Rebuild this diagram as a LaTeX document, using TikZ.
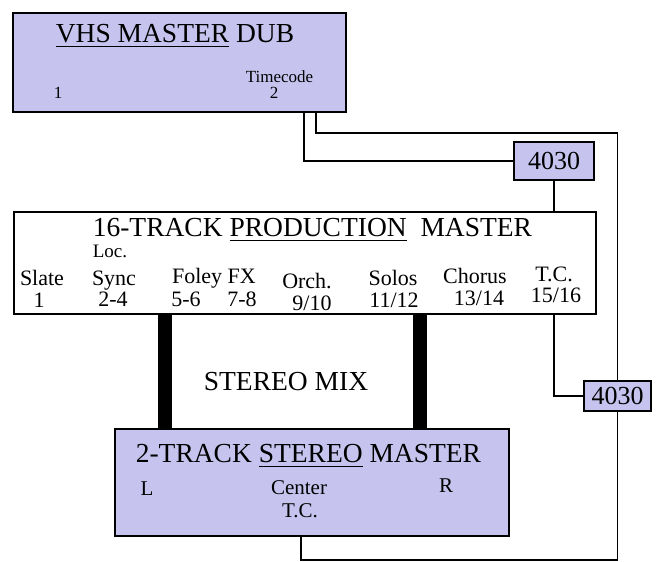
\documentclass[tikz,border=0pt]{standalone}
\usepackage{fontspec}
\setmainfont{Liberation Serif}
\definecolor{lila}{RGB}{198,196,238}
\newcommand{\subr}[1]{\vtop{\hbox{#1}\kern3.5pt\hrule height 1.2pt}}

\begin{document}
\begin{tikzpicture}[x=1pt, y=-1pt, line width=1.6pt,
  caja/.style={draw, line width=2pt, inner sep=0pt, anchor=north west},
  titulo/.style={font={\fontsize{27.5}{30}\selectfont}, inner sep=0pt, anchor=base west},
  chico/.style={font={\fontsize{17}{19}\selectfont}, inner sep=0pt, anchor=base},
  pista/.style={font={\fontsize{22}{24}\selectfont}, inner sep=0pt, anchor=base},
  medio/.style={font={\fontsize{21}{23}\selectfont}, inner sep=0pt, anchor=base},
  sinc/.style={caja, fill=lila, font={\fontsize{26}{28}\selectfont}},
  barra/.style={line width=14pt}]
  \useasboundingbox (0,0) rectangle (656,562);
  % copia VHS
  \node[caja, fill=lila, minimum width=333pt, minimum height=99pt] (vhs) at (12,12) {};
  \node[titulo] (vhsT) at (55,42) {\subr{VHS MASTER} DUB};
  \node[chico, anchor=base west] (vhsTC) at (245,82) {Timecode};
  \node[chico] (v1) at (58,98) {1};
  \node[chico] (v2) at (274,98) {2};
  % sincronizadores
  \node[sinc, minimum width=80pt, minimum height=38pt] (ta) at (513,141) {4030};
  \node[sinc, minimum width=67pt, minimum height=30pt] (tb) at (583,380) {4030};
  % master de 16 pistas
  \node[caja, fill=white, minimum width=582pt, minimum height=102pt] (p16) at (13,211) {};
  \node[titulo] (p16T) at (92,236) {16-TRACK \subr{PRODUCTION}\ \ MASTER};
  \node[chico, font={\fontsize{19}{21}\selectfont}, anchor=base west] (loc) at (92,257) {Loc.};
  \foreach \x/\y/\t [count=\i] in {42/285/Slate, 114/285/Sync, 214/283/Foley FX,
      307/288/Orch., 393/285/Solos, 475/283/Chorus, 554/281/T.C.}
    \node[pista] (e\i) at (\x,\y) {\t};
  \foreach \x/\y/\t [count=\i] in {39/307/1, 113/306/2-4, 186/306/5-6, 242/306/7-8,
      312/310/{9/10}, 394/307/{11/12}, 479/305/{13/14}, 556/302/{15/16}}
    \node[pista] (n\i) at (\x,\y) {\t};
  % master estereo
  \node[caja, fill=lila, minimum width=394pt, minimum height=107pt] (st) at (114,428) {};
  \node[titulo] (stT) at (135,462) {2-TRACK \subr{STEREO} MASTER};
  \node[medio] (sL) at (147,495) {L};
  \node[medio] (sC) at (299,494) {Center};
  \node[medio] (sT) at (300,517) {T.C.};
  \node[medio] (sR) at (446,492) {R};
  % mezcla
  \node[titulo, anchor=base] (mix) at (286,390) {STEREO MIX};
  \draw[barra] ([xshift=152pt]p16.south west) coordinate (b1) -- (b1 |- st.north);
  \draw[barra] ([xshift=407pt]p16.south west) coordinate (b2) -- (b2 |- st.north);
  % codigo de tiempo
  \draw ([xshift=-43pt]vhs.south east) |- (ta.west);
  \draw ([xshift=-31pt]vhs.south east) -- ++(0,20) -| (tb.north);
  \draw (ta.south) -- (ta.south |- p16.north);
  \draw ([xshift=-43pt]p16.south east) |- (tb.west);
  \draw (tb.south) -- ++(0,148) -| ([xshift=-11pt]st.south);
\end{tikzpicture}
\end{document}
